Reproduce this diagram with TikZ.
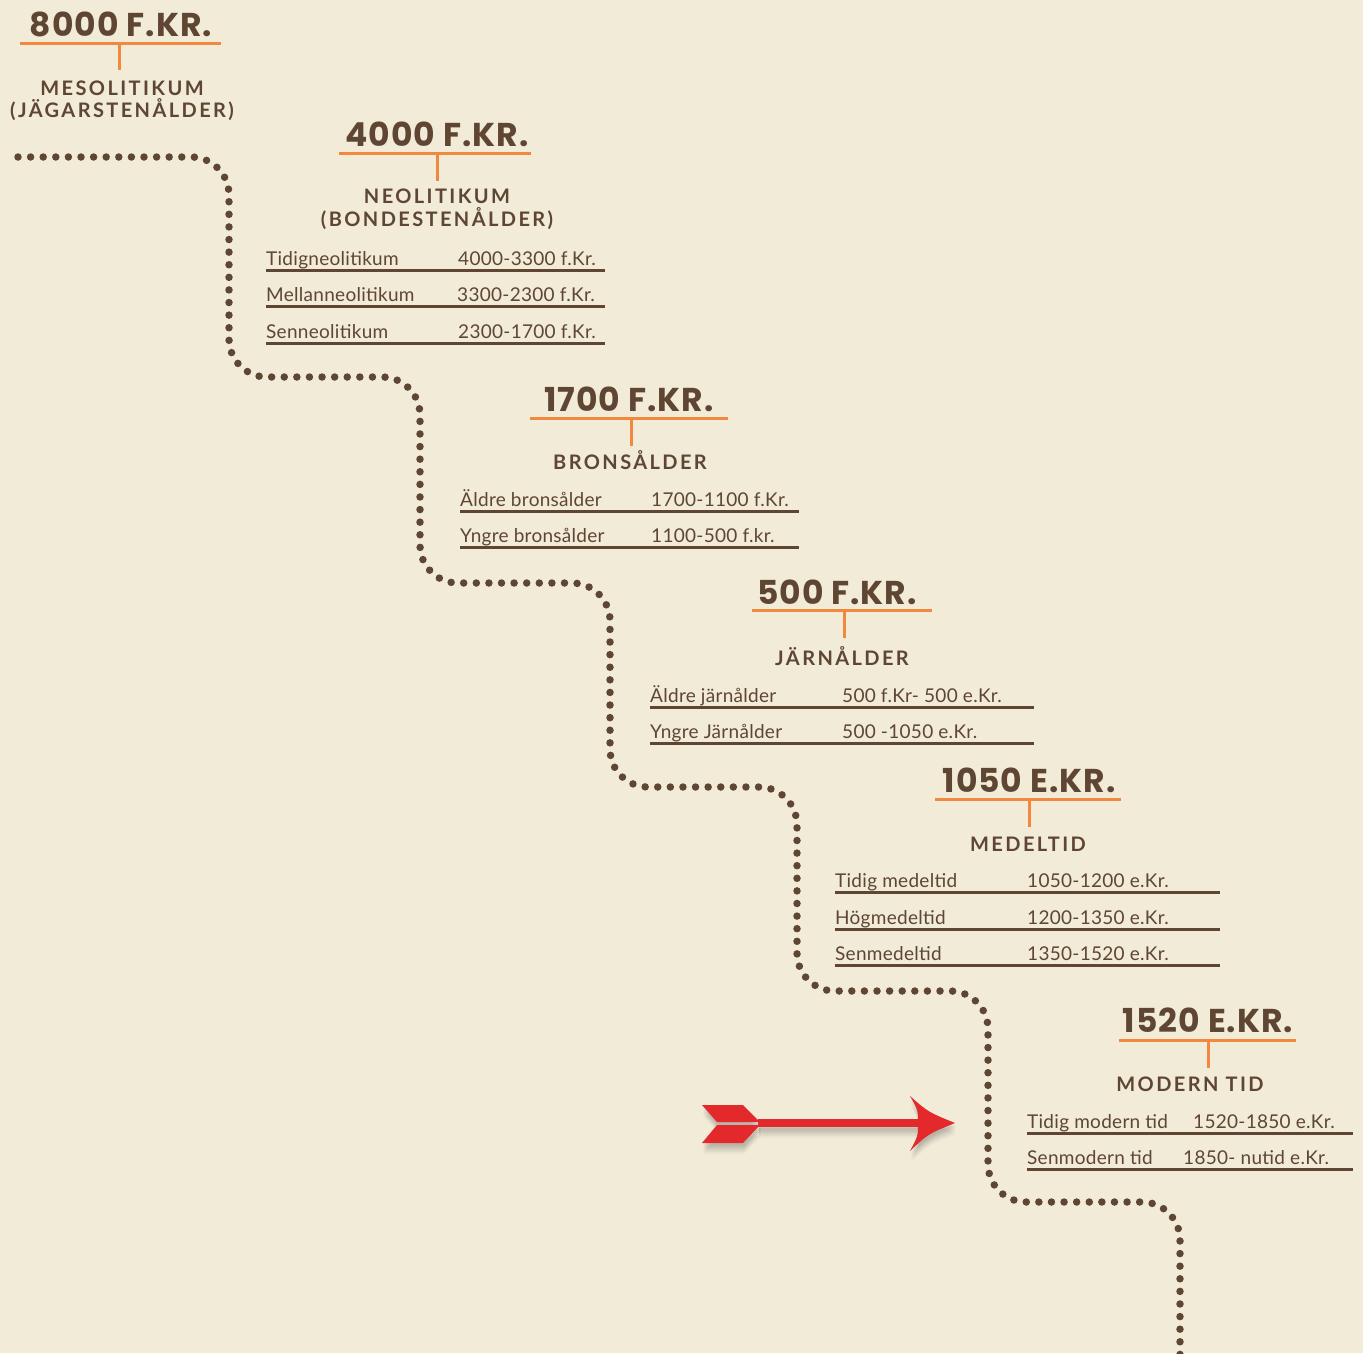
\documentclass[tikz,border=0pt]{standalone}
\usepackage{fontspec}
\setmainfont{Lato}
\newfontfamily\headfont[LetterSpace=3]{Poppins}
\newfontfamily\subfont[LetterSpace=12]{Lato}
\newfontfamily\cellfont[LetterSpace=1.5]{Lato}
\definecolor{bg}{HTML}{F1EBD8}
\definecolor{brn}{HTML}{5E4632}
\definecolor{org}{HTML}{F0883E}
\definecolor{arr}{HTML}{E3292B}
\begin{document}
\begin{tikzpicture}[x=1pt,y=-1pt,
 head/.style={font=\headfont\bfseries\fontsize{33}{36}\selectfont, text=brn, anchor=base, inner sep=0pt},
 sub/.style={font=\subfont\bfseries\fontsize{20}{22}\selectfont, text=brn, anchor=base, inner sep=0pt},
 cell/.style={font=\cellfont\fontsize{19}{21}\selectfont, text=brn, anchor=base west, inner sep=0pt},
 oline/.style={draw=org, line width=3pt},
 rline/.style={draw=brn, line width=3pt},
 trail/.style={draw=brn, line width=7.5pt, line cap=round, dash pattern=on 0pt off 12.6pt, rounded corners=38pt},
 pics/arrowshape/.style={code={
   \fill (702,1105) -- (743,1105) -- (760,1122) -- (717,1122) -- cycle;
   \fill (717,1125) -- (760,1125) -- (743,1143) -- (702,1143) -- cycle;
   \fill (758,1119) rectangle (921,1127);
   \fill (910,1096) .. controls (928,1112) .. (955,1123) .. controls (928,1134) .. (910,1151)
        .. controls (918,1136) .. (918,1123) .. controls (918,1110) .. (910,1096) -- cycle;
 }}]
\fill[bg] (0,0) rectangle (1363,1353);
\useasboundingbox (0,0) rectangle (1363,1353);

% trail
\coordinate (t0) at (18,157);
\coordinate (t13) at (1180,1375);
\draw[trail] (t0) -- (229,157) -- (229,377) -- (420,377) -- (420,583) -- (610,583) -- (610,787)
  -- (797,787) -- (797,991) -- (988,991) -- (988,1202) -- (1180,1202) -- (t13);

% block 1
\node[head] (h1) at (121,36) {8000 F.KR.};
\draw[oline] (20,43) -- (221,43);
\draw[oline] (119,43) -- (119,70);
\node[sub] (s1a) at (122,95) {MESOLITIKUM};
\node[sub] (s1b) at (122,117) {(JÄGARSTENÅLDER)};

% block 2
\node[head] (h2) at (437,146) {4000 F.KR.};
\draw[oline] (339,153) -- (531,153);
\draw[oline] (437,153) -- (437,181);
\node[sub] (s2a) at (437,203) {NEOLITIKUM};
\node[sub] (s2b) at (437,226) {(BONDESTENÅLDER)};
\node[cell] (r2a) at (266,265) {Tidigneolitikum};
\node[cell] (r2ad) at (458,265) {4000-3300 f.Kr.};
\draw[rline] (266,270) -- (605,270);
\node[cell] (r2b) at (266,301) {Mellanneolitikum};
\node[cell] (r2bd) at (457,301) {3300-2300 f.Kr.};
\draw[rline] (266,306) -- (605,306);
\node[cell] (r2c) at (266,338) {Senneolitikum};
\node[cell] (r2cd) at (458,338) {2300-1700 f.Kr.};
\draw[rline] (266,343) -- (605,343);

% block 3
\node[head] (h3) at (629,411) {1700 F.KR.};
\draw[oline] (530,418) -- (728,418);
\draw[oline] (631,418) -- (631,446);
\node[sub] (s3) at (630,469) {BRONSÅLDER};
\node[cell] (r3a) at (460,506) {Äldre bronsålder};
\node[cell] (r3ad) at (651,506) {1700-1100 f.Kr.};
\draw[rline] (460,511) -- (799,511);
\node[cell] (r3b) at (460,542) {Yngre bronsålder};
\node[cell] (r3bd) at (651,542) {1100-500 f.kr.};
\draw[rline] (460,547) -- (799,547);

% block 4
\node[head] (h4) at (837,604) {500 F.KR.};
\draw[oline] (752,610) -- (932,610);
\draw[oline] (844,610) -- (844,638);
\node[sub] (s4) at (842,665) {JÄRNÅLDER};
\node[cell] (r4a) at (650,702) {Äldre järnålder};
\node[cell] (r4ad) at (842,702) {500 f.Kr- 500 e.Kr.};
\draw[rline] (650,707) -- (1034,707);
\node[cell] (r4b) at (650,738) {Yngre Järnålder};
\node[cell] (r4bd) at (842,738) {500 -1050 e.Kr.};
\draw[rline] (650,743) -- (1034,743);

% block 5
\node[head] (h5) at (1029,792) {1050 E.KR.};
\draw[oline] (935,799) -- (1121,799);
\draw[oline] (1029,799) -- (1029,827);
\node[sub] (s5) at (1028,851) {MEDELTID};
\node[cell] (r5a) at (835,887) {Tidig medeltid};
\node[cell] (r5ad) at (1027,887) {1050-1200 e.Kr.};
\draw[rline] (835,892) -- (1220,892);
\node[cell] (r5b) at (835,924) {Högmedeltid};
\node[cell] (r5bd) at (1027,924) {1200-1350 e.Kr.};
\draw[rline] (835,929) -- (1220,929);
\node[cell] (r5c) at (835,960) {Senmedeltid};
\node[cell] (r5cd) at (1027,960) {1350-1520 e.Kr.};
\draw[rline] (835,965) -- (1220,965);

% block 6
\node[head] (h6) at (1208,1032) {1520 E.KR.};
\draw[oline] (1119,1040) -- (1296,1040);
\draw[oline] (1208,1040) -- (1208,1068);
\node[sub] (s6) at (1190,1091) {MODERN TID};
\node[cell] (r6a) at (1027,1128) {Tidig modern tid};
\node[cell] (r6ad) at (1193,1128) {1520-1850 e.Kr.};
\draw[rline] (1027,1133) -- (1353,1133);
\node[cell] (r6b) at (1027,1164) {Senmodern tid};
\node[cell] (r6bd) at (1183,1164) {1850- nutid e.Kr.};
\draw[rline] (1027,1169) -- (1353,1169);

% arrow with soft shadow
\foreach \d/\o in {11/0.03,9/0.04,7/0.05,5/0.06,3/0.06}{
  \begin{scope}[shift={(1,\d)}]
    \pic[fill=black, fill opacity=\o] {arrowshape};
  \end{scope}
}
\pic[fill=arr] {arrowshape};
\end{tikzpicture}
\end{document}
